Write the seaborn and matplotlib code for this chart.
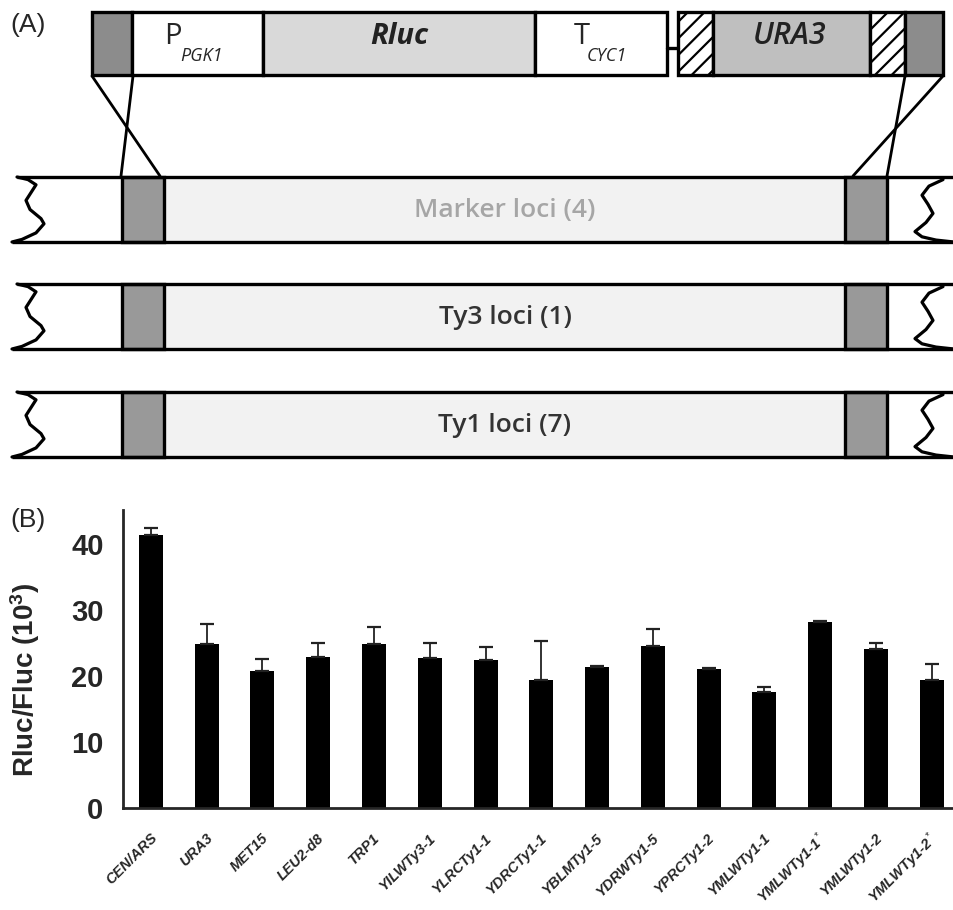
import matplotlib.pyplot as plt
from matplotlib.patches import Rectangle
from matplotlib.transforms import ScaledTranslation
import numpy as np
import seaborn as sns

# ---- panel B data ----
loci = ["CEN/ARS", "URA3", "MET15", "LEU2-d8", "TRP1", "YILWTy3-1", "YLRCTy1-1",
        "YDRCTy1-1", "YBLMTy1-5", "YDRWTy1-5", "YPRCTy1-2", "YMLWTy1-1",
        "YMLWTy1-1$^*$", "YMLWTy1-2", "YMLWTy1-2$^*$"]
rluc_fluc = [41.4, 24.8, 20.8, 22.9, 24.8, 22.7, 22.4, 19.4, 21.4, 24.5, 21.1, 17.6, 28.2, 24.1, 19.4]
rluc_err = [1.0, 3.1, 1.8, 2.1, 2.6, 2.3, 2.0, 5.9, 0.2, 2.6, 0.1, 0.7, 0.1, 0.9, 2.5]
yticks = [0, 10, 20, 30, 40]

# ---- panel A: construct segments and loci rows ----
construct_left = [("#8c8c8c", None), ("white", None), ("#d9d9d9", None), ("white", None)]
construct_left_x = [92, 132, 263, 535, 667]
construct_right = [("white", "//"), ("#bfbfbf", None), ("white", "//"), ("#8c8c8c", None)]
construct_right_x = [678, 713, 870, 905, 943]
row_names = ["Marker loci (4)", "Ty3 loci (1)", "Ty1 loci (7)"]
row_colors = ["#a6a6a6", "#333333", "#333333"]
row_tops = [177, 284, 392]

sns.set_style("white")
plt.rcParams['font.family'] = ['Liberation Sans', 'DejaVu Sans']
plt.rcParams['mathtext.fontset'] = 'custom'
plt.rcParams['mathtext.rm'] = 'Liberation Sans'
plt.rcParams['mathtext.it'] = 'Liberation Sans:italic:bold'
plt.rcParams['mathtext.bf'] = 'Liberation Sans:bold'
plt.rcParams['hatch.linewidth'] = 1.6

fig = plt.figure(figsize=(9.54, 9.1), dpi=100)

# diagram drawn in pixel coordinates
axA = fig.add_axes([0, 0, 1, 1])
axA.set_xlim(0, 954)
axA.set_ylim(910, 0)
axA.axis('off')
axA.patch.set_alpha(0)
lw = 2.4
dfont = ['Open Sans', 'DejaVu Sans']

def boxes(xs, styles, y0, h):
    for i, (fc, hatch) in enumerate(styles):
        axA.add_patch(Rectangle((xs[i], y0), xs[i + 1] - xs[i], h, facecolor=fc,
                                edgecolor='black', lw=lw, hatch=hatch))

boxes(construct_left_x, construct_left, 12, 63)
boxes(construct_right_x, construct_right, 12, 63)
axA.plot([667, 678], [48, 48], color='black', lw=lw)

axA.text(164, 44, "P", fontsize=21, family=dfont, va='baseline')
axA.text(180, 61, "PGK1", fontsize=13, family=dfont, style='italic', va='baseline')
axA.text(399, 44, "Rluc", fontsize=21, family=dfont, style='italic', weight='bold',
         ha='center', va='baseline', color='#222222')
axA.text(574, 44, "T", fontsize=21, family=dfont, va='baseline')
axA.text(587, 61, "CYC1", fontsize=13, family=dfont, style='italic', va='baseline')
axA.text(790, 44, "URA3", fontsize=22, family=dfont, style='italic', weight='semibold',
         ha='center', va='baseline', color='#222222')

# crossing lines from construct to locus
for (x0, x1) in [(92, 160), (133, 121), (905, 887), (943, 853)]:
    axA.plot([x0, x1], [76, 176], color='black', lw=2.0)

zig_left = [(17, 0.0), (28, 0.04), (36, 0.12), (31, 0.24), (26, 0.36), (30, 0.50),
            (41, 0.64), (44, 0.72), (36, 0.86), (22, 0.96), (12, 1.0)]
zig_right = [(943, 0.04), (929, 0.14), (922, 0.28), (928, 0.42), (933, 0.56),
             (926, 0.70), (915, 0.84), (922, 0.92), (936, 0.97), (954, 1.0)]
h = 65
for name, col, y0 in zip(row_names, row_colors, row_tops):
    axA.add_patch(Rectangle((163, y0), 845 - 163, h, facecolor='#f2f2f2', edgecolor='none'))
    for bx in (122, 845):
        axA.add_patch(Rectangle((bx, y0), 42, h, facecolor='#999999', edgecolor='black', lw=lw))
    axA.plot([17, 954], [y0, y0], color='black', lw=lw, solid_capstyle='butt')
    axA.plot([12, 954], [y0 + h, y0 + h], color='black', lw=lw, solid_capstyle='butt')
    axA.plot([p[0] for p in zig_left], [y0 + p[1] * h for p in zig_left], color='black', lw=2.3)
    axA.plot([p[0] for p in zig_right], [y0 + p[1] * h for p in zig_right], color='black', lw=2.3)
    axA.text(505, y0 + h / 2 + 1, name, fontsize=19, family=dfont, weight='semibold',
             color=col, ha='center', va='center')

axA.text(10, 25, "(A)", fontsize=19, va='center')
axA.text(10, 520, "(B)", fontsize=19, va='center')

# ---- panel B: bar chart ----
axB = fig.add_axes([123 / 954, (910 - 808) / 910, (954 - 123) / 954, (808 - 510) / 910])
n = len(loci)
sns.barplot(x=loci, y=rluc_fluc, color='black', saturation=1, width=0.43,
            errorbar=None, ax=axB, edgecolor='none')
axB.errorbar(np.arange(n), rluc_fluc, yerr=[np.zeros(n), rluc_err], fmt='none',
             ecolor='#222222', elinewidth=1.3, capsize=5, capthick=1.6)
axB.set_xlim(-0.5, 14.4)
axB.set_ylim(0, 45.2)
sns.despine(ax=axB)
for s in ('left', 'bottom'):
    axB.spines[s].set_linewidth(2.0)
axB.set_yticks(yticks)
axB.set_yticks([5, 15, 25, 35], minor=True)
axB.tick_params(axis='y', which='both', direction='out', length=8, width=2, labelsize=21, pad=6)
for t in axB.get_yticklabels():
    t.set_fontweight('bold')
axB.set_ylabel(r"Rluc/Fluc (10$^{\mathbf{3}}$)", fontsize=20, fontweight='bold')
axB.yaxis.set_label_coords(-0.097, 0.43)

axB.tick_params(axis='x', length=0, pad=20)
shift = ScaledTranslation(4 / 100, 0, fig.dpi_scale_trans)
for t in axB.get_xticklabels():
    t.set_rotation(45)
    t.set_ha('right')
    t.set_va('center')
    t.set_rotation_mode('anchor')
    t.set_fontstyle('italic')
    t.set_fontweight('bold')
    t.set_fontsize(10.5)
    t.set_transform(t.get_transform() + shift)

fig.savefig('out.png', dpi=100)
